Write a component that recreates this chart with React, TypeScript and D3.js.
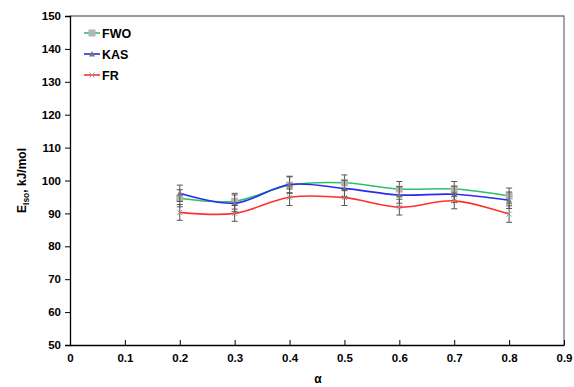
import { useEffect, useRef } from "react";
import * as d3 from "d3";

// conversion fraction
const alpha = [0.2, 0.3, 0.4, 0.5, 0.6, 0.7, 0.8];
// activation energy, kJ/mol
const fwo = [94.6, 93.7, 98.6, 99.3, 97.4, 97.4, 95.3];
const kas = [96.1, 93.1, 98.8, 97.6, 95.6, 95.8, 94.0];
const fr = [90.3, 90.0, 94.9, 94.8, 91.9, 93.8, 89.8];
// error bars (+/-)
const fwoErr = [2.6, 2.4, 2.5, 2.4, 2.3, 2.3, 2.4];
const kasErr = [2.5, 2.5, 2.5, 2.5, 2.5, 2.5, 2.5];
const frErr = [2.4, 2.4, 2.5, 2.4, 2.4, 2.4, 2.5];

const xTicks = [0, 0.1, 0.2, 0.3, 0.4, 0.5, 0.6, 0.7, 0.8, 0.9];
const yTicks = [50, 60, 70, 80, 90, 100, 110, 120, 130, 140, 150];

const series = [
  { name: "FWO", values: fwo, err: fwoErr, color: "#2fbf6a", marker: "square" },
  { name: "KAS", values: kas, err: kasErr, color: "#2a2af0", marker: "triangle" },
  { name: "FR", values: fr, err: frErr, color: "#ff3030", marker: "cross" },
];

export default function App() {
  const ref = useRef<SVGSVGElement>(null);

  useEffect(() => {
    const svg = d3.select(ref.current);
    svg.selectAll("*").remove();

    const left = 70, right = 564, top = 16, bottom = 345;
    const x = d3.scaleLinear().domain([0, 0.9]).range([left, right]);
    const y = d3.scaleLinear().domain([50, 150]).range([bottom, top]);
    const font = "Arial, 'Liberation Sans', sans-serif";

    // frame (top + right)
    svg.append("path")
      .attr("d", `M${left},${top}H${right}V${bottom}`)
      .attr("fill", "none").attr("stroke", "#777").attr("stroke-width", 1.3);

    // y axis
    const yAxis = svg.append("g").attr("transform", `translate(${left},0)`)
      .call(d3.axisLeft(y).tickValues(yTicks).tickSize(5).tickFormat(d3.format("d")));
    yAxis.select(".domain").attr("stroke", "#000").attr("stroke-width", 1.3);
    yAxis.selectAll("line").attr("stroke", "#000");
    yAxis.selectAll("text").attr("font-family", font).attr("font-size", 11.5)
      .attr("font-weight", "bold").attr("fill", "#000").attr("x", -9);

    // x axis, ticks inside
    const xAxis = svg.append("g").attr("transform", `translate(0,${bottom})`)
      .call(d3.axisBottom(x).tickValues(xTicks).tickSizeInner(-5).tickSizeOuter(0)
        .tickFormat((d) => String(d)));
    xAxis.select(".domain").attr("stroke", "#000").attr("stroke-width", 1.3);
    xAxis.selectAll("line").attr("stroke", "#000");
    xAxis.selectAll("text").attr("font-family", font).attr("font-size", 11.5)
      .attr("font-weight", "bold").attr("fill", "#000").attr("y", 9);

    // axis titles
    svg.append("text").attr("x", 318).attr("y", 383).attr("text-anchor", "middle")
      .attr("font-family", font).attr("font-size", 12).attr("font-weight", "bold").text("α");

    const yl = svg.append("text")
      .attr("transform", `translate(26,${(top + bottom) / 2}) rotate(-90)`)
      .attr("text-anchor", "middle").attr("font-family", font)
      .attr("font-size", 12).attr("font-weight", "bold");
    yl.append("tspan").text("E");
    yl.append("tspan").attr("font-size", 8.5).attr("dy", 3).text("Iso");
    yl.append("tspan").attr("dy", -3).text(", kJ/mol");

    const line = d3.line<number>()
      .x((_, i) => x(alpha[i]))
      .y((d) => y(d))
      .curve(d3.curveCatmullRom.alpha(0.5));

    const drawMarker = (g: any, kind: string, cx: number, cy: number) => {
      if (kind === "square") {
        g.append("rect").attr("x", cx - 3.5).attr("y", cy - 3.5).attr("width", 7).attr("height", 7)
          .attr("fill", "#b4b4b4");
      } else if (kind === "triangle") {
        g.append("path").attr("d", `M${cx},${cy - 3}L${cx + 3},${cy + 2.5}L${cx - 3},${cy + 2.5}Z`)
          .attr("fill", "#777");
      } else {
        g.append("path").attr("d", `M${cx - 2.5},${cy - 2.5}L${cx + 2.5},${cy + 2.5}M${cx - 2.5},${cy + 2.5}L${cx + 2.5},${cy - 2.5}`)
          .attr("stroke", "#999").attr("stroke-width", 1).attr("fill", "none");
      }
    };

    series.forEach((s) => {
      const g = svg.append("g");
      g.append("path").datum(s.values).attr("d", line)
        .attr("fill", "none").attr("stroke", s.color).attr("stroke-width", 1.6);
      // error bars
      s.values.forEach((v, i) => {
        const cx = x(alpha[i]);
        const y1 = y(v + s.err[i]), y2 = y(v - s.err[i]);
        g.append("path")
          .attr("d", `M${cx},${y1}V${y2}M${cx - 3},${y1}H${cx + 3}M${cx - 3},${y2}H${cx + 3}`)
          .attr("stroke", "#555").attr("stroke-width", 1).attr("fill", "none");
      });
      s.values.forEach((v, i) => drawMarker(g, s.marker, x(alpha[i]), y(v)));
    });

    // legend
    series.forEach((s, i) => {
      const ly = 33 + i * 21;
      const g = svg.append("g");
      g.append("line").attr("x1", 84).attr("x2", 100).attr("y1", ly).attr("y2", ly)
        .attr("stroke", s.color).attr("stroke-width", 1.6);
      drawMarker(g, s.marker, 92, ly);
      g.append("text").attr("x", 102).attr("y", ly + 4.5)
        .attr("font-family", font).attr("font-size", 12.5).attr("font-weight", "bold").text(s.name);
    });
  }, []);

  return <svg ref={ref} width={574} height={387}
    style={{ position: "absolute", left: 0, top: 0, display: "block" }} />;
}
